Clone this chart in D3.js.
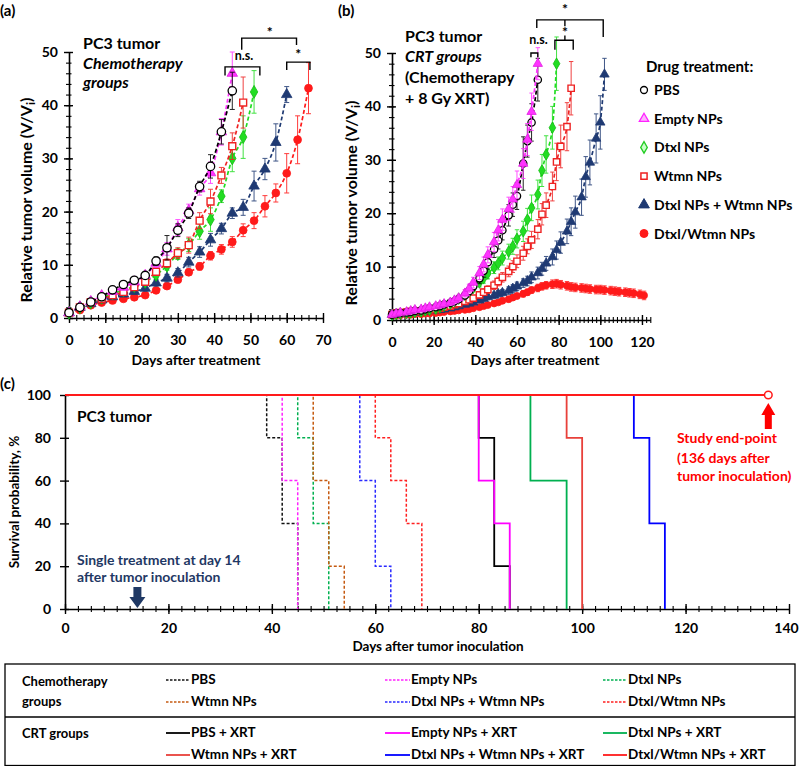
<!DOCTYPE html>
<html><head><meta charset="utf-8">
<script src="https://cdn.jsdelivr.net/npm/d3@7"></script>
<style>
body{margin:0;background:#fff;}
svg text{font-family:Lato,'Open Sans',sans-serif;font-weight:700;fill:#000;}
</style></head><body>
<svg id="chart" width="800" height="766"></svg>
<script>
// ================= DATA =================
// Panel (a): chemotherapy groups, measured every 3 days
const daysA = [0,3,6,9,12,15,18,21,24,27,30,33,36,39,42,45,48,51,54,57,60,63,66];
const pbsA   = [1.0,2.0,3.0,4.0,5.3,6.3,7.1,8.0,10.7,13.2,16.5,19.7,24.7,28.5,35.0,42.7];
const pbsAErr= [0.2,0.2,0.3,0.3,0.4,0.4,0.5,0.6,0.8,2.3,1.2,1.0,1.0,2.2,2.3,3.5];
const emptyA = [1.0,2.1,3.1,4.2,5.0,5.8,6.8,8.0,10.3,13.0,17.0,20.2,24.3,27.3,35.0,46.0];
const emptyAErr=[0.2,0.2,0.3,0.3,0.4,0.5,0.5,0.6,0.8,1.2,1.5,1.2,1.2,2.0,2.5,4.0];
const dtxlA  = [1.0,2.0,2.9,3.8,4.6,5.2,6.0,6.8,8.1,9.8,12.0,13.7,16.3,18.5,22.9,30.0,34.0,42.5];
const dtxlAErr=[0.2,0.2,0.3,0.3,0.4,0.4,0.5,0.5,0.6,0.8,1.0,1.2,1.5,2.2,1.2,2.5,4.0,4.0];
const wtmnA  = [1.0,2.0,3.0,3.6,4.3,4.9,5.8,6.8,8.7,10.3,12.2,13.7,18.3,21.9,26.8,32.3,40.5];
const wtmnAErr=[0.2,0.2,0.3,0.3,0.4,0.4,0.5,0.6,0.7,0.8,1.0,1.5,1.5,2.3,1.5,2.5,4.8];
const comboA = [1.0,2.0,2.7,3.4,4.0,4.5,5.0,5.6,6.6,7.5,8.5,10.5,12.4,14.7,16.8,19.7,20.8,24.8,28.0,33.0,42.0];
const comboAErr=[0.2,0.2,0.3,0.3,0.4,0.4,0.5,0.5,0.6,0.7,0.8,0.9,1.0,1.2,1.0,1.0,1.5,2.8,2.0,3.5,1.5];
const coloadA= [1.0,1.5,2.4,2.9,3.3,3.6,3.9,4.3,5.2,6.0,7.2,8.6,9.7,11.7,12.9,14.3,16.5,18.3,21.0,23.5,27.2,33.5,43.2];
const coloadAErr=[0.2,0.2,0.3,0.3,0.3,0.3,0.4,0.4,0.4,0.5,0.5,0.6,0.7,0.8,0.9,1.0,1.2,1.5,2.0,1.7,3.7,4.5,4.8];

// Panel (b): CRT groups (chemotherapy + 8 Gy XRT)
const daysB = [0,2,4,7,9,11,14,16,18,21,23,25,28,30,32,35,37,39,42,44,46,49,51,53,56,58,60,63,65,67,70,72,74,77,79,81,84,86,88,91,93,95,98,100,102,105,107,109,112,114,116,119,121];
const pbsB   = [1.0,1.2,1.3,1.4,1.5,1.7,1.8,2.0,2.2,2.4,2.6,2.9,3.2,3.5,3.9,4.6,5.4,6.3,7.8,9.2,10.8,13.2,14.9,16.8,19.6,21.6,23.2,29.3,33.5,37.0,45.0];
const pbsBErr= [0.2,0.2,0.2,0.2,0.2,0.3,0.3,0.3,0.3,0.3,0.4,0.4,0.4,0.5,0.5,0.6,0.7,0.8,1.0,1.2,1.3,1.5,1.6,1.8,2.0,2.2,2.5,5.0,3.0,3.5,4.0];
const emptyB = [1.0,1.2,1.4,1.5,1.7,1.9,2.0,2.2,2.4,2.6,2.8,3.0,3.3,3.7,4.1,5.0,5.9,7.0,8.8,10.4,12.2,14.6,16.8,18.8,20.8,22.6,25.3,29.3,33.8,39.0,48.0];
const emptyBErr=[0.2,0.2,0.2,0.3,0.3,0.3,0.3,0.3,0.4,0.4,0.4,0.4,0.5,0.5,0.6,0.7,0.8,1.0,1.2,1.4,1.5,1.8,2.0,2.0,2.2,2.4,2.6,2.8,3.0,3.5,3.0];
const dtxlB  = [1.0,1.1,1.2,1.3,1.4,1.5,1.6,1.8,1.9,2.1,2.4,2.7,3.1,3.5,4.0,4.7,5.3,6.0,7.0,7.8,8.7,9.8,10.6,11.6,12.8,13.8,15.2,16.6,18.8,21.0,23.5,28.0,31.0,36.0,48.0];
const dtxlBErr=[0.2,0.2,0.2,0.2,0.2,0.2,0.3,0.3,0.3,0.3,0.3,0.4,0.4,0.4,0.5,0.5,0.6,0.7,0.8,0.9,1.0,1.1,1.2,1.3,1.4,1.5,1.7,1.9,2.1,2.4,2.7,3.0,3.5,4.0,5.0];
const wtmnB  = [1.0,1.3,1.4,1.5,1.6,1.6,1.7,1.8,1.9,2.0,2.2,2.4,2.6,2.9,3.1,3.5,3.8,4.1,4.7,5.2,5.7,6.5,7.2,8.0,9.1,10.0,11.0,12.5,13.8,15.0,17.0,19.8,21.5,25.0,29.6,32.5,36.2,43.4];
const wtmnBErr=[0.2,0.2,0.2,0.2,0.2,0.2,0.2,0.3,0.3,0.3,0.3,0.3,0.3,0.4,0.4,0.4,0.5,0.5,0.6,0.6,0.7,0.8,0.8,0.9,1.0,1.1,1.2,1.3,1.4,1.6,1.8,2.0,2.3,2.7,3.5,4.0,4.5,5.0];
const comboB = [1.0,1.0,1.1,1.2,1.3,1.4,1.5,1.6,1.7,1.8,1.9,2.0,2.2,2.4,2.6,2.9,3.1,3.3,3.7,4.0,4.3,4.6,4.9,5.1,5.5,5.9,6.3,6.9,7.3,8.0,8.8,9.6,10.6,11.8,13.1,14.5,16.6,18.4,20.2,23.0,26.8,29.5,34.0,37.0,46.0];
const comboBErr=[0.2,0.2,0.2,0.2,0.2,0.2,0.2,0.2,0.2,0.3,0.3,0.3,0.3,0.3,0.3,0.4,0.4,0.4,0.5,0.5,0.5,0.6,0.6,0.6,0.7,0.7,0.8,0.8,0.9,1.0,1.1,1.2,1.3,1.5,1.7,2.0,2.3,2.6,3.0,3.4,3.8,4.2,4.6,5.0,3.0];
const coloadB= [1.0,0.9,0.9,1.0,1.0,1.1,1.1,1.2,1.2,1.3,1.4,1.5,1.6,1.7,1.8,1.9,2.0,2.2,2.4,2.6,2.8,3.1,3.3,3.6,3.9,4.2,4.5,4.9,5.2,5.6,6.0,6.3,6.5,6.7,6.8,6.6,6.4,6.2,6.1,6.0,5.9,5.8,5.7,5.7,5.6,5.5,5.4,5.3,5.2,5.1,5.0,4.8,4.6];
const coloadBErr=[0.2,0.2,0.2,0.2,0.2,0.2,0.2,0.2,0.2,0.2,0.2,0.3,0.3,0.3,0.3,0.3,0.3,0.3,0.4,0.4,0.4,0.4,0.4,0.5,0.5,0.5,0.5,0.6,0.6,0.6,0.7,0.7,0.7,0.8,0.8,0.8,0.8,0.8,0.8,0.8,0.8,0.8,0.8,0.8,0.8,0.8,0.8,0.8,0.8,0.8,0.8,0.8,0.8];

const drugNames = ["PBS","Empty NPs","Dtxl NPs","Wtmn NPs","Dtxl NPs + Wtmn NPs","Dtxl/Wtmn NPs"];

// Panel (c): Kaplan-Meier step data (event days, survival %)
const survTimes = {
  pbs:[0,39,42,45], empty:[0,42,45], dtxl:[0,45,48,51], wtmn:[0,48,51,54], combo:[0,57,60,63], coload:[0,60,63,66,69],
  pbsX:[0,80,83,86], emptyX:[0,80,83,86], dtxlX:[0,90,97], wtmnX:[0,97,100], comboX:[0,110,113,116], coloadX:[0,136]
};
const survVals = {
  pbs:[100,80,40,0], empty:[100,60,0], dtxl:[100,80,40,0], wtmn:[100,60,20,0], combo:[100,60,20,0], coload:[100,80,60,40,0],
  pbsX:[100,80,20,0], emptyX:[100,60,40,0], dtxlX:[100,60,0], wtmnX:[100,80,0], comboX:[100,80,40,0], coloadX:[100,100]
};
const chemoLabels = ["PBS","Empty NPs","Dtxl NPs","Wtmn NPs","Dtxl NPs + Wtmn NPs","Dtxl/Wtmn NPs"];
const crtLabels = ["PBS + XRT","Empty NPs + XRT","Dtxl NPs + XRT","Wtmn NPs + XRT","Dtxl NPs + Wtmn NPs + XRT","Dtxl/Wtmn NPs + XRT"];

const ticksAX = [0,10,20,30,40,50,60,70];
const ticksBX = [0,20,40,60,80,100,120];
const ticksVol = [0,10,20,30,40,50];
const ticksCX = [0,20,40,60,80,100,120,140];
const ticksCY = [0,20,40,60,80,100];

// ================= DRAW =================
const svg = d3.select('#chart');
const FONT = "Lato,'Open Sans',sans-serif";

const xA = d3.scaleLinear().domain([0,70]).range([69,323]);
const yA = d3.scaleLinear().domain([0,50]).range([318,52]);
const xB = d3.scaleLinear().domain([0,124]).range([392,650.3]);
const yB = d3.scaleLinear().domain([0,50]).range([320,53]);
const xC = d3.scaleLinear().domain([0,140]).range([65,789]);
const yC = d3.scaleLinear().domain([0,100]).range([609,395]);

function styleAxis(a, fs){
  a.attr('font-family',null).attr('font-size',null);
  a.select('.domain').attr('stroke','#000').attr('stroke-width',1.6);
  a.selectAll('.tick line').attr('stroke','#000').attr('stroke-width',1.4);
  a.selectAll('.tick text').style('font-size',fs+'px').style('font-family',FONT).style('font-weight',700);
}
function xAxis(x, y0, major, minor, pad, fs, minorLen){
  const a = svg.append('g').attr('transform',`translate(0,${y0})`)
    .call(d3.axisBottom(x).tickValues(major).tickSizeInner(5).tickSizeOuter(0).tickPadding(pad).tickFormat(d3.format('d')));
  styleAxis(a, fs);
  a.selectAll('.tick line').attr('y1',-5);
  const m = svg.append('g').attr('transform',`translate(0,${y0})`)
    .call(d3.axisBottom(x).tickValues(minor).tickSizeInner(minorLen).tickSizeOuter(0).tickFormat(''));
  m.select('.domain').remove();
  m.selectAll('.tick line').attr('y1',-minorLen).attr('stroke','#000').attr('stroke-width',1.1);
  return a;
}
function yAxis(y, x0, major, minor, pad, fs){
  const a = svg.append('g').attr('transform',`translate(${x0},0)`)
    .call(d3.axisLeft(y).tickValues(major).tickSizeInner(5).tickSizeOuter(0).tickPadding(pad).tickFormat(d3.format('d')));
  styleAxis(a, fs);
  a.selectAll('.tick line').attr('x1',4);
  if(minor.length){
    const m = svg.append('g').attr('transform',`translate(${x0},0)`)
      .call(d3.axisLeft(y).tickValues(minor).tickSizeInner(3).tickSizeOuter(0).tickFormat(''));
    m.select('.domain').remove();
    m.selectAll('.tick line').attr('x1',2.5).attr('stroke','#000').attr('stroke-width',1.1);
  }
}
const rng = (a,b,s)=>d3.range(a,b+1e-9,s);

// ---- styles for growth curves
const st = [
  {color:'#000000', sym:d3.symbolCircle,   fill:'#ffffff', stroke:'#000000', sw:1.3},
  {color:'#ff33ff', sym:d3.symbolTriangle, fill:'#ff33ff', stroke:'#e020e0', sw:0.8},
  {color:'#22dd22', sym:d3.symbolDiamond,  fill:'#22dd22', stroke:'#11bb11', sw:0.8},
  {color:'#ee2222', sym:d3.symbolSquare,   fill:'#ffffff', stroke:'#ee2222', sw:1.4},
  {color:'#1f3a73', sym:d3.symbolTriangle, fill:'#1f3a73', stroke:'#1f3a73', sw:0.8},
  {color:'#ff1a1a', sym:d3.symbolCircle,   fill:'#ff1a1a', stroke:'#ff1a1a', sw:0.8}
];

function drawSeries(g, x, y, days, vals, errs, s, size, ebw){
  const pts = vals.map((v,i)=>({d:days[i], v:v, e:errs[i]||0}));
  g.append('path').datum(pts)
    .attr('d', d3.line().x(p=>x(p.d)).y(p=>y(p.v)).curve(d3.curveMonotoneX))
    .attr('fill','none').attr('stroke',s.color).attr('stroke-width',1.7).attr('stroke-dasharray','4,2.5');
  const eg = g.append('g').attr('stroke',s.color).attr('stroke-width',1).attr('opacity',0.85);
  pts.forEach(p=>{
    if(p.e<=0) return;
    const cx = x(p.d), y1 = y(p.v-p.e), y2 = y(p.v+p.e);
    eg.append('line').attr('x1',cx).attr('x2',cx).attr('y1',y1).attr('y2',y2);
    eg.append('line').attr('x1',cx-ebw).attr('x2',cx+ebw).attr('y1',y1).attr('y2',y1);
    eg.append('line').attr('x1',cx-ebw).attr('x2',cx+ebw).attr('y1',y2).attr('y2',y2);
  });
  g.append('g').selectAll('path').data(pts).join('path')
    .attr('transform',p=>`translate(${x(p.d)},${y(p.v)})`)
    .attr('d', d3.symbol().type(s.sym).size(size))
    .attr('fill',s.fill).attr('stroke',s.stroke).attr('stroke-width',s.sw);
}

// ---------------- Panel (a)
xAxis(xA, yA(0), ticksAX, rng(0,70,2), 12, 14, 3);
yAxis(yA, xA(0), ticksVol, rng(0,50,2), 6, 14);
const gA = svg.append('g');
const seriesA = [[coloadA,coloadAErr,5],[comboA,comboAErr,4],[dtxlA,dtxlAErr,2],[wtmnA,wtmnAErr,3],[emptyA,emptyAErr,1],[pbsA,pbsAErr,0]];
seriesA.forEach(([v,e,k])=>drawSeries(gA, xA, yA, daysA, v, e, st[k], k===3?48:(k===0?55:48), 2.5));

// ---------------- Panel (b)
xAxis(xB, yB(0), ticksBX, rng(0,124,2), 12, 14, 3);
yAxis(yB, xB(0), ticksVol, rng(0,50,2), 6, 14);
const gB = svg.append('g');
const seriesB = [[coloadB,coloadBErr,5],[comboB,comboBErr,4],[wtmnB,wtmnBErr,3],[dtxlB,dtxlBErr,2],[pbsB,pbsBErr,0],[emptyB,emptyBErr,1]];
seriesB.forEach(([v,e,k])=>drawSeries(gB, xB, yB, daysB, v, e, st[k], k===3?40:(k===0?42:38), 2.2));

// text helper
function txt(x,y,s,opts={}){
  const t = svg.append('text').attr('x',x).attr('y',y).text(s)
    .style('font-size',(opts.fs||14)+'px');
  if(opts.italic) t.style('font-style','italic');
  if(opts.anchor) t.attr('text-anchor',opts.anchor);
  if(opts.fill) t.style('fill',opts.fill);
  return t;
}

// panel labels and titles
txt(0,16,'(a)',{fs:15});
txt(338,16,'(b)',{fs:15});
txt(0,389,'(c)',{fs:15});

txt(83,49,'PC3 tumor',{fs:16});
txt(83,69,'Chemotherapy',{fs:16,italic:true});
txt(83,88,'groups',{fs:16,italic:true});

txt(405,42,'PC3 tumor',{fs:16});
txt(405,62,'CRT groups',{fs:16,italic:true});
txt(405,83,'(Chemotherapy',{fs:16});
txt(405,104,'+ 8 Gy XRT)',{fs:16});

txt(196,365,'Days after treatment',{anchor:'middle'});
txt(535,365,'Days after treatment',{anchor:'middle'});

function yTitle(x,cy,fs){
  const t = svg.append('text').attr('transform',`translate(${x},${cy}) rotate(-90)`).attr('text-anchor','middle').style('font-size',fs+'px');
  t.append('tspan').text('Relative tumor volume (V/V');
  t.append('tspan').text('i').style('font-size',(fs-4)+'px').attr('dy',3);
  t.append('tspan').text(')').attr('dy',-3);
}
yTitle(32,200,16);
yTitle(357,203,16);

// significance brackets
function bracket(g, x, y, d1, d2, v, v1, v2){
  g.append('path').attr('d', `M${x(d1)},${y(v1)}V${y(v)}H${x(d2)}V${y(v2)}`)
    .attr('fill','none').attr('stroke','#000').attr('stroke-width',1.4);
}
const br = svg.append('g');
bracket(br, xA, yA, 43, 52.6, 47.2, 45.6, 45.6);
txt(xA(48.2), yA(48.5), 'n.s.', {fs:12.5, anchor:'middle'});
bracket(br, xA, yA, 47.6, 62.7, 52.6, 50.4, 51.3);
txt(xA(55.3), yA(52.9), '*', {fs:14, anchor:'middle'});
bracket(br, xA, yA, 60, 66.4, 48.1, 46.6, 46.6);
txt(xA(63.2), yA(48.6), '*', {fs:14, anchor:'middle'});

bracket(br, xB, yB, 66.7, 70, 50.0, 49.2, 49.2);
txt(xB(70.3), yB(51.6), 'n.s.', {fs:12.5, anchor:'middle'});
bracket(br, xB, yB, 69.5, 101.4, 56.2, 54.7, 53.0);
br.append('line').attr('x1',xB(83)).attr('x2',xB(83)).attr('y1',yB(56.2)).attr('y2',yB(55.0)).attr('stroke','#000').attr('stroke-width',1.4);
txt(xB(83), yB(57.3), '*', {fs:14, anchor:'middle'});
bracket(br, xB, yB, 78.2, 87, 52.4, 50.6, 50.6);
br.append('line').attr('x1',xB(83)).attr('x2',xB(83)).attr('y1',yB(52.4)).attr('y2',yB(53.3)).attr('stroke','#000').attr('stroke-width',1.4);
txt(xB(83), yB(53.0), '*', {fs:14, anchor:'middle'});

// legend "Drug treatment"
txt(646,72,'Drug treatment:',{fs:15});
const legSt = [
  {sym:d3.symbolCircle, fill:'#fff', stroke:'#000', sw:1.3},
  {sym:d3.symbolTriangle, fill:'#ffb0ff', stroke:'#ff22ff', sw:1.3},
  {sym:d3.symbolDiamond, fill:'#c8ffc8', stroke:'#22cc22', sw:1.3},
  {sym:d3.symbolSquare, fill:'#fff', stroke:'#ee2222', sw:1.5},
  {sym:d3.symbolTriangle, fill:'#1f3a73', stroke:'#1f3a73', sw:1},
  {sym:d3.symbolCircle, fill:'#ff1a1a', stroke:'#ff1a1a', sw:1}
];
drugNames.forEach((n,i)=>{
  const cy = 90 + i*28.7;
  svg.append('path').attr('transform',`translate(644,${cy})`)
    .attr('d', d3.symbol().type(legSt[i].sym).size(i>=4?50:38))
    .attr('fill',legSt[i].fill).attr('stroke',legSt[i].stroke).attr('stroke-width',legSt[i].sw);
  txt(654, cy+5, n, {fs:14});
});

// ---------------- Panel (c)
const axC = xAxis(xC, yC(0), ticksCX, rng(0,140,2.5), 9, 14, 3);
axC.selectAll('.tick text').filter(d=>d===140).attr('dx',-3);
yAxis(yC, xC(0), ticksCY, [], 9, 14);
const survColors = {
  pbs:'#111111', empty:'#ff22ff', dtxl:'#00b050', wtmn:'#c55a11', combo:'#2a2aff', coload:'#ff2020',
  pbsX:'#000000', emptyX:'#ff00ff', dtxlX:'#00b050', wtmnX:'#e8403a', comboX:'#0000ff', coloadX:'#ff1a1a'
};
const gC = svg.append('g');
const km = d3.line().x(p=>xC(p[0])).y(p=>yC(p[1])).curve(d3.curveStepAfter);
['pbs','empty','dtxl','wtmn','combo','coload'].forEach(k=>{
  gC.append('path').datum(survTimes[k].map((t,i)=>[t,survVals[k][i]])).attr('d',km)
    .attr('fill','none').attr('stroke',survColors[k]).attr('stroke-width',1.5).attr('stroke-dasharray','3,2');
});
['pbsX','emptyX','dtxlX','wtmnX','comboX','coloadX'].forEach(k=>{
  gC.append('path').datum(survTimes[k].map((t,i)=>[t,survVals[k][i]])).attr('d',km)
    .attr('fill','none').attr('stroke',survColors[k]).attr('stroke-width',1.8);
});
gC.append('circle').attr('cx',xC(136)).attr('cy',yC(100)).attr('r',3.8).attr('fill','#fff').attr('stroke','#ff1a1a').attr('stroke-width',1.5);

// arrows
function arrow(cx, tipY, dir, len, headH, headW, shaftW, color){
  const b = tipY - dir*len, h = tipY - dir*headH;
  const p = `M${cx-shaftW/2},${b}L${cx+shaftW/2},${b}L${cx+shaftW/2},${h}L${cx+headW/2},${h}L${cx},${tipY}L${cx-headW/2},${h}L${cx-shaftW/2},${h}Z`;
  svg.append('path').attr('d',p).attr('fill',color);
}
arrow(xC(14), yC(0)-1, 1, 21, 11, 16, 8, '#1f3864');
arrow(xC(136), yC(100)+8, -1, 26, 12, 14, 7, '#ff0000');

txt(77,422,'PC3 tumor',{fs:15.5});
txt(77,565,'Single treatment at day 14',{fs:14,fill:'#1f3864'});
txt(77,582,'after tumor inoculation',{fs:14,fill:'#1f3864'});
txt(677,443,'Study end-point',{fs:14,fill:'#ff0000'});
txt(677,463,'(136 days after',{fs:14,fill:'#ff0000'});
txt(677,481,'tumor inoculation)',{fs:14,fill:'#ff0000'});

svg.append('text').attr('transform',`translate(19,${(yC(0)+yC(100))/2}) rotate(-90)`).attr('text-anchor','middle').style('font-size','13.5px').text('Survival probability, %');
txt(438, 651, 'Days after tumor inoculation', {fs:13.5, anchor:'middle'});

// ---------------- Legend table
const tb = {top:664, sep:717, bot:765.5, left:5, right:795};
const tg = svg.append('g');
tg.append('rect').attr('x',tb.left).attr('y',tb.top).attr('width',tb.right-tb.left).attr('height',tb.bot-tb.top)
  .attr('fill','none').attr('stroke','#000').attr('stroke-width',1.3);
tg.append('line').attr('x1',tb.left).attr('x2',tb.right).attr('y1',tb.sep).attr('y2',tb.sep).attr('stroke','#000').attr('stroke-width',1.3);
txt(22,686,'Chemotherapy',{fs:13});
txt(22,706,'groups',{fs:13});
txt(22,738,'CRT groups',{fs:13});
const colLine = [[166,190],[385,410],[603,627]];
const rowsY = [684,706,737,759];
const chemoKeys = ['pbs','empty','dtxl','wtmn','combo','coload'];
const crtKeys = ['pbsX','emptyX','dtxlX','wtmnX','comboX','coloadX'];
chemoLabels.forEach((l,i)=>{
  const c = i%3, r = Math.floor(i/3), y = rowsY[r]-4;
  tg.append('line').attr('x1',colLine[c][0]).attr('x2',colLine[c][1]).attr('y1',y).attr('y2',y)
    .attr('stroke',survColors[chemoKeys[i]]).attr('stroke-width',1.5).attr('stroke-dasharray','2.5,1.5');
  txt(colLine[c][1]+1, rowsY[r], l, {fs:13.5});
});
crtLabels.forEach((l,i)=>{
  const c = i%3, r = 2+Math.floor(i/3), y = rowsY[r]-4;
  tg.append('line').attr('x1',colLine[c][0]).attr('x2',colLine[c][1]).attr('y1',y).attr('y2',y)
    .attr('stroke',survColors[crtKeys[i]]).attr('stroke-width',1.8);
  txt(colLine[c][1]+1, rowsY[r], l, {fs:13.5});
});
</script>
</body></html>
